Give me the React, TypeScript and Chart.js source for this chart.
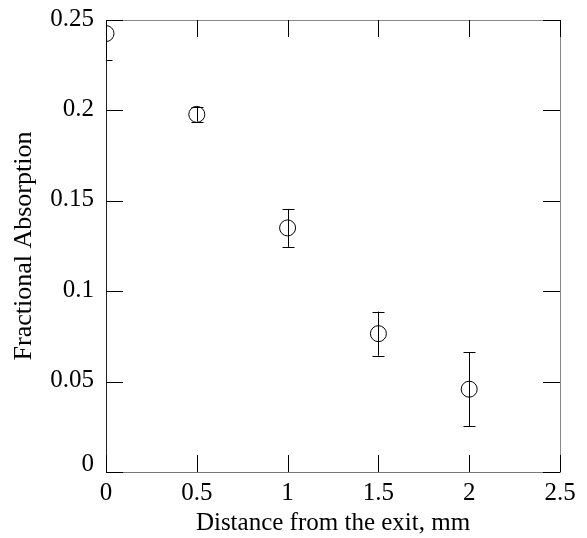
import React, { useEffect, useRef } from "react";
import { Chart, registerables } from "chart.js";

Chart.register(...registerables);

const distances = [0, 0.5, 1, 1.5, 2];
const absorption = [0.2425, 0.1978, 0.135, 0.0765, 0.0458];
const errors = [0.0146, 0.004, 0.0105, 0.0122, 0.0203];
const xTicks = [0, 0.5, 1, 1.5, 2, 2.5];
const yTicks = [0, 0.05, 0.1, 0.15, 0.2, 0.25];

const FONT = "'Liberation Serif', 'Times New Roman', serif";
const TICK_LEN = 17;
const CAP = 6;

const fmt = (v: number) => String(parseFloat(Number(v).toFixed(3)));

const inwardTicks = {
  id: "inwardTicks",
  afterDatasetsDraw(chart: any) {
    const { ctx, chartArea } = chart;
    const xs = chart.scales.x;
    const ys = chart.scales.y;
    ctx.save();
    ctx.strokeStyle = "#000";
    ctx.lineWidth = 1;
    ctx.beginPath();
    ctx.rect(chartArea.left, chartArea.top, chartArea.right - chartArea.left, chartArea.bottom - chartArea.top);
    ctx.clip();
    ctx.beginPath();
    distances.forEach((d, i) => {
      const px = Math.round(xs.getPixelForValue(d)) + 0.5;
      const yTop = ys.getPixelForValue(absorption[i] + errors[i]);
      const yBot = ys.getPixelForValue(absorption[i] - errors[i]);
      ctx.moveTo(px, yTop);
      ctx.lineTo(px, yBot);
      ctx.moveTo(px - CAP, Math.round(yTop) + 0.5);
      ctx.lineTo(px + CAP, Math.round(yTop) + 0.5);
      ctx.moveTo(px - CAP, Math.round(yBot) + 0.5);
      ctx.lineTo(px + CAP, Math.round(yBot) + 0.5);
    });
    ctx.stroke();
    ctx.restore();

    ctx.save();
    ctx.strokeStyle = "#000";
    ctx.lineWidth = 1;
    ctx.beginPath();
    xTicks.forEach((t) => {
      const px = Math.round(xs.getPixelForValue(t)) + 0.5;
      ctx.moveTo(px, chartArea.bottom);
      ctx.lineTo(px, chartArea.bottom - TICK_LEN);
      ctx.moveTo(px, chartArea.top);
      ctx.lineTo(px, chartArea.top + TICK_LEN);
    });
    yTicks.forEach((t) => {
      const py = Math.round(ys.getPixelForValue(t)) + 0.5;
      ctx.moveTo(chartArea.left, py);
      ctx.lineTo(chartArea.left + TICK_LEN, py);
      ctx.moveTo(chartArea.right, py);
      ctx.lineTo(chartArea.right - TICK_LEN, py);
    });
    ctx.stroke();

    // y tick labels
    ctx.fillStyle = "#000";
    ctx.font = `25px ${FONT}`;
    ctx.textAlign = "right";
    ctx.textBaseline = "middle";
    yTicks.forEach((t) => {
      const py = ys.getPixelForValue(t) - (t === 0 ? 8 : 1);
      ctx.fillText(fmt(t), chartArea.left - 12, py);
    });
    ctx.restore();
  },
};

const zeroPad = (s: any) => {
  s.paddingTop = 0;
  s.paddingBottom = 0;
  s.paddingLeft = 0;
  s.paddingRight = 0;
};

export default function App() {
  const ref = useRef<HTMLCanvasElement | null>(null);
  useEffect(() => {
    if (!ref.current) return;
    const hidden = {
      display: true,
      grid: { display: false, drawTicks: false },
      ticks: { display: false },
      border: { display: true, color: "#888", width: 1 },
    };
    const chart = new Chart(ref.current, {
      type: "scatter",
      data: {
        datasets: [
          {
            data: distances.map((d, i) => ({ x: d, y: absorption[i] })),
            pointStyle: "circle",
            pointRadius: 8,
            pointBorderWidth: 1,
            pointBorderColor: "#000",
            pointBackgroundColor: "rgba(0,0,0,0)",
            showLine: false,
          },
        ],
      },
      options: {
        responsive: false,
        animation: false,
        layout: { padding: 0 },
        plugins: { legend: { display: false }, tooltip: { enabled: false } },
        scales: {
          x: {
            type: "linear",
            position: "bottom",
            min: 0,
            max: 2.5,
            afterBuildTicks: (s: any) => {
              s.ticks = xTicks.map((v) => ({ value: v }));
            },
            afterFit: (s: any) => {
              s.height = 66;
              zeroPad(s);
            },
            grid: { display: false, drawTicks: false },
            border: { display: true, color: "#777", width: 1 },
            ticks: {
              color: "#000",
              font: { family: FONT, size: 25 },
              padding: 6,
              maxRotation: 0,
              autoSkip: false,
              callback: (v: any) => fmt(v),
            },
            title: {
              display: true,
              text: "Distance from the exit, mm",
              color: "#000",
              font: { family: FONT, size: 25 },
              padding: { top: 0, bottom: 0 },
            },
          },
          x2: {
            ...hidden,
            type: "linear",
            position: "top",
            min: 0,
            max: 2.5,
            afterFit: (s: any) => {
              s.height = 20;
              zeroPad(s);
            },
          },
          y: {
            type: "linear",
            position: "left",
            min: 0,
            max: 0.25,
            afterBuildTicks: (s: any) => {
              s.ticks = yTicks.map((v) => ({ value: v }));
            },
            afterFit: (s: any) => {
              s.width = 106;
              zeroPad(s);
            },
            grid: { display: false, drawTicks: false },
            border: { display: true, color: "#222", width: 1 },
            ticks: {
              display: false,
            },
            title: {
              display: true,
              text: "Fractional Absorption",
              color: "#000",
              font: { family: FONT, size: 26 },
              padding: { top: 9, bottom: 0 },
            },
          },
          y2: {
            ...hidden,
            type: "linear",
            position: "right",
            min: 0,
            max: 0.25,
            afterFit: (s: any) => {
              s.width = 27;
              zeroPad(s);
            },
          },
        },
      } as any,
      plugins: [inwardTicks],
    });
    return () => chart.destroy();
  }, []);
  return (
    <div style={{ position: "fixed", left: 0, top: 0, width: 587, height: 538, background: "#fff" }}>
      <canvas ref={ref} width={587} height={538} style={{ width: 587, height: 538, display: "block" }} />
    </div>
  );
}
